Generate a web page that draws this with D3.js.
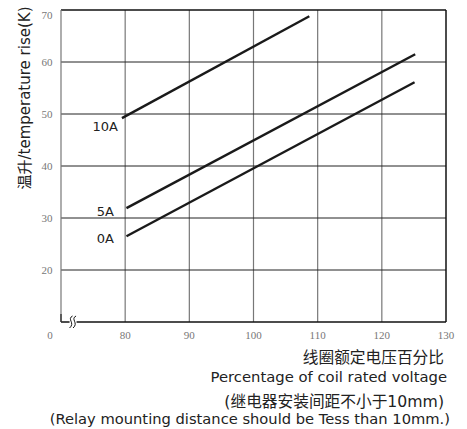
<!DOCTYPE html>
<html>
<head>
<meta charset="utf-8">
<script src="https://cdn.jsdelivr.net/npm/d3@7/dist/d3.min.js"></script>
<style>
  body { margin: 0; background: #fff; }
  svg { display: block; }
</style>
</head>
<body>
<svg id="chart"></svg>
<script>
// data
const xTicks = [80, 90, 100, 110, 120, 130];
const yTicks = [20, 30, 40, 50, 60, 70];
const seriesNames = ["10A", "5A", "0A"];
const line10A = [[79.5, 49.2], [108.7, 68.8]];
const line5A = [[80.2, 31.9], [125.2, 61.5]];
const line0A = [[80.2, 26.5], [125.1, 56.1]];
const labelPos = [[76.9, 46.7], [76.9, 30.4], [76.9, 25.2]];

const width = 467, height = 429;
const svg = d3.select("#chart").attr("width", width).attr("height", height);

const x = d3.scaleLinear().domain([70, 130]).range([61, 446]);
const y = d3.scaleLinear().domain([10, 70]).range([322, 10]);

const g = svg.append("g");

// vertical grid (grey)
g.selectAll(".vgrid")
  .data(xTicks.slice(0, -1))
  .join("line")
  .attr("x1", d => x(d)).attr("x2", d => x(d))
  .attr("y1", y(70)).attr("y2", y(10))
  .attr("stroke", "#777").attr("stroke-width", 1.2);

// horizontal grid (dark)
g.selectAll(".hgrid")
  .data(yTicks.slice(0, -1))
  .join("line")
  .attr("x1", x(70)).attr("x2", x(130))
  .attr("y1", d => y(d)).attr("y2", d => y(d))
  .attr("stroke", "#222").attr("stroke-width", 1);

// frame
g.append("line").attr("x1", x(70)).attr("x2", x(130)).attr("y1", y(70)).attr("y2", y(70))
  .attr("stroke", "#111").attr("stroke-width", 1.3);
g.append("line").attr("x1", x(130)).attr("x2", x(130)).attr("y1", y(70)).attr("y2", y(10))
  .attr("stroke", "#111").attr("stroke-width", 1.5);
g.append("line").attr("x1", x(70)).attr("x2", x(130)).attr("y1", y(10)).attr("y2", y(10))
  .attr("stroke", "#111").attr("stroke-width", 1.5);
g.append("line").attr("x1", x(70)).attr("x2", x(70)).attr("y1", y(70)).attr("y2", y(10) - 8)
  .attr("stroke", "#777").attr("stroke-width", 1.2);
g.append("line").attr("x1", x(70)).attr("x2", x(70)).attr("y1", y(10) - 8).attr("y2", y(10))
  .attr("stroke", "#333").attr("stroke-width", 1.6);

// break mark on x axis
const bx = x(71.8), by = y(10);
g.append("rect").attr("x", bx - 3).attr("y", by - 6).attr("width", 7).attr("height", 12).attr("fill", "#fff");
[-2, 1.5].forEach(o => {
  g.append("path")
    .attr("d", `M${bx + o + 2},${by - 6} C${bx + o - 4},${by - 3} ${bx + o + 5},${by + 1} ${bx + o - 1},${by + 6}`)
    .attr("fill", "none").attr("stroke", "#111").attr("stroke-width", 1);
});

// series lines
const lineGen = d3.line().x(d => x(d[0])).y(d => y(d[1]));
g.selectAll(".series")
  .data([line10A, line5A, line0A])
  .join("path")
  .attr("d", lineGen)
  .attr("fill", "none").attr("stroke", "#1a1a1a").attr("stroke-width", 2.4);

const sans = "DejaVu Sans, Noto Sans CJK SC, sans-serif";

g.selectAll(".slabel")
  .data(seriesNames)
  .join("text")
  .attr("x", (d, i) => x(labelPos[i][0]))
  .attr("y", (d, i) => y(labelPos[i][1]))
  .attr("text-anchor", "middle")
  .attr("font-family", sans)
  .attr("font-size", 13).attr("fill", "#222")
  .text(d => d);

// tick labels
const tickFont = "Liberation Serif, Times New Roman, serif";
g.selectAll(".xt")
  .data(xTicks)
  .join("text")
  .attr("x", d => x(d)).attr("y", 339)
  .attr("text-anchor", "middle")
  .attr("font-family", tickFont).attr("font-size", 11).attr("fill", "#777")
  .text(d => d);
g.append("text").attr("x", 50).attr("y", 339).attr("text-anchor", "middle")
  .attr("font-family", tickFont).attr("font-size", 11).attr("fill", "#777").text("0");
g.selectAll(".yt")
  .data(yTicks)
  .join("text")
  .attr("x", 52.5).attr("y", d => d === 70 ? y(d) + 8.5 : y(d) + 4)
  .attr("text-anchor", "end")
  .attr("font-family", tickFont).attr("font-size", 11).attr("fill", "#777")
  .text(d => d);

// axis titles
svg.append("text")
  .attr("transform", "translate(30,98) rotate(-90)")
  .attr("text-anchor", "middle")
  .attr("font-family", sans).attr("font-size", 15).attr("fill", "#222")
  .text("温升/temperature rise(K)");

const notes = [
  ["线圈额定电压百分比", 444, 363, 15.7],
  ["Percentage of coil rated voltage", 447, 382, 14.8],
  ["(继电器安装间距不小于10mm)", 444, 407, 15.7],
  ["(Relay mounting distance should be Tess than 10mm.)", 450, 424, 14.7]
];
svg.selectAll(".note")
  .data(notes)
  .join("text")
  .attr("x", d => d[1]).attr("y", d => d[2])
  .attr("text-anchor", "end")
  .attr("font-family", sans).attr("font-size", d => d[3]).attr("fill", "#222")
  .text(d => d[0]);
</script>
</body>
</html>
